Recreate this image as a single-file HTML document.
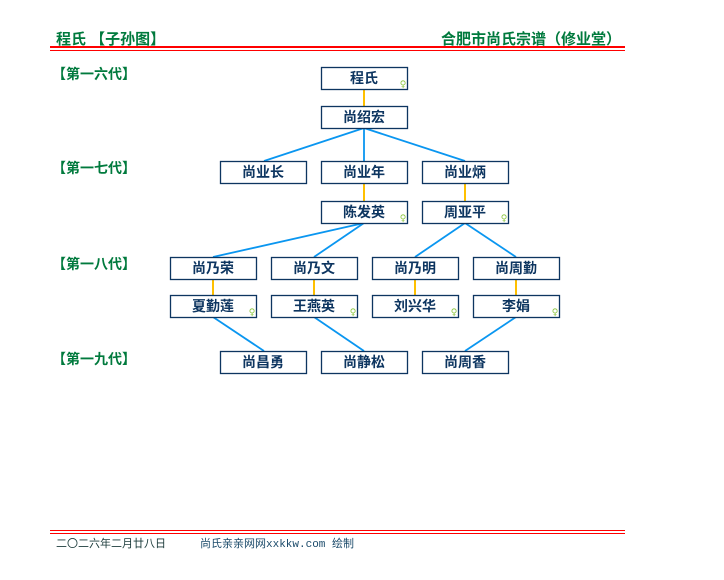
<!DOCTYPE html>
<html><head><meta charset="utf-8"><style>
html,body{margin:0;padding:0;background:#fff;width:724px;height:580px;overflow:hidden}
svg{display:block}
</style></head><body>
<svg width="724" height="580" xmlns="http://www.w3.org/2000/svg">
<text x="56" y="44" font-size="15" font-weight="bold" fill="#007a3d" font-family="Liberation Sans,Noto Sans CJK SC,sans-serif">程氏  【子孙图】</text>
<text x="621" y="44" font-size="15" font-weight="bold" fill="#007a3d" text-anchor="end" font-family="Liberation Sans,Noto Sans CJK SC,sans-serif">合肥市尚氏宗谱（修业堂）</text>
<rect x="50" y="46" width="575" height="2" fill="#f00"/>
<rect x="50" y="50" width="575" height="1" fill="#f00"/>
<rect x="50" y="530" width="575" height="1" fill="#f00"/>
<rect x="50" y="533" width="575" height="1" fill="#f00"/>
<text x="56" y="547" font-size="11" fill="#1a3a3a" font-family="Liberation Sans,Noto Sans CJK SC,sans-serif">二〇二六年二月廿八日</text>
<text x="200" y="547" font-size="11" fill="#1a4a6a" font-family="Liberation Mono,Noto Sans CJK SC,monospace">尚氏亲亲网网xxkkw.com 绘制</text>
<g font-size="14" font-weight="bold" fill="#007a3d" font-family="Liberation Sans,Noto Sans CJK SC,sans-serif">
<text x="52" y="79">【第一六代】</text>
<text x="52" y="173">【第一七代】</text>
<text x="52" y="269">【第一八代】</text>
<text x="52" y="364">【第一九代】</text>
</g>
<g stroke="#ffc000" stroke-width="2">
<line x1="364" y1="89" x2="364" y2="106"/>
<line x1="364" y1="183" x2="364" y2="201"/>
<line x1="465" y1="183" x2="465" y2="201"/>
<line x1="213" y1="279" x2="213" y2="295"/>
<line x1="314" y1="279" x2="314" y2="295"/>
<line x1="415" y1="279" x2="415" y2="295"/>
<line x1="516" y1="279" x2="516" y2="295"/>
</g>
<g stroke="#0a96f0" stroke-width="1.8">
<line x1="364" y1="128" x2="264" y2="161"/>
<line x1="364" y1="128" x2="364" y2="161"/>
<line x1="364" y1="128" x2="465" y2="161"/>
<line x1="364" y1="223" x2="213" y2="257"/>
<line x1="364" y1="223" x2="314" y2="257"/>
<line x1="465" y1="223" x2="415" y2="257"/>
<line x1="465" y1="223" x2="516" y2="257"/>
<line x1="213" y1="317" x2="264" y2="351"/>
<line x1="314" y1="317" x2="364" y2="351"/>
<line x1="516" y1="317" x2="465" y2="351"/>
</g>
<g fill="#fff" stroke="#0d3560" stroke-width="1.3">
<rect x="321.5" y="67.5" width="86" height="22"/>
<rect x="321.5" y="106.5" width="86" height="22"/>
<rect x="220.5" y="161.5" width="86" height="22"/>
<rect x="321.5" y="161.5" width="86" height="22"/>
<rect x="422.5" y="161.5" width="86" height="22"/>
<rect x="321.5" y="201.5" width="86" height="22"/>
<rect x="422.5" y="201.5" width="86" height="22"/>
<rect x="170.5" y="257.5" width="86" height="22"/>
<rect x="271.5" y="257.5" width="86" height="22"/>
<rect x="372.5" y="257.5" width="86" height="22"/>
<rect x="473.5" y="257.5" width="86" height="22"/>
<rect x="170.5" y="295.5" width="86" height="22"/>
<rect x="271.5" y="295.5" width="86" height="22"/>
<rect x="372.5" y="295.5" width="86" height="22"/>
<rect x="473.5" y="295.5" width="86" height="22"/>
<rect x="220.5" y="351.5" width="86" height="22"/>
<rect x="321.5" y="351.5" width="86" height="22"/>
<rect x="422.5" y="351.5" width="86" height="22"/>
</g>
<g font-size="14" font-weight="bold" fill="#0d3560" text-anchor="middle" font-family="Liberation Sans,Noto Sans CJK SC,sans-serif">
<text x="364" y="83">程氏</text>
<text x="364" y="122">尚绍宏</text>
<text x="263" y="177">尚业长</text>
<text x="364" y="177">尚业年</text>
<text x="465" y="177">尚业炳</text>
<text x="364" y="217">陈发英</text>
<text x="465" y="217">周亚平</text>
<text x="213" y="273">尚乃荣</text>
<text x="314" y="273">尚乃文</text>
<text x="415" y="273">尚乃明</text>
<text x="516" y="273">尚周勤</text>
<text x="213" y="311">夏勤莲</text>
<text x="314" y="311">王燕英</text>
<text x="415" y="311">刘兴华</text>
<text x="516" y="311">李娟</text>
<text x="263" y="367">尚昌勇</text>
<text x="364" y="367">尚静松</text>
<text x="465" y="367">尚周香</text>
</g>
<g font-size="9" fill="#8cc63f" text-anchor="middle" font-family="DejaVu Sans,sans-serif">
<text x="403" y="87">♀</text>
<text x="403" y="221">♀</text>
<text x="504" y="221">♀</text>
<text x="252" y="315">♀</text>
<text x="353" y="315">♀</text>
<text x="454" y="315">♀</text>
<text x="555" y="315">♀</text>
</g>
</svg>
</body></html>
